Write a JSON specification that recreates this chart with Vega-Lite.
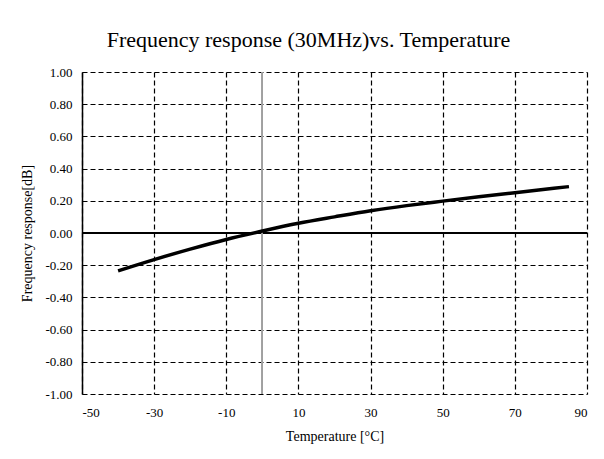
{
  "$schema": "https://vega.github.io/schema/vega-lite/v6.json",
  "width": 505,
  "height": 322,
  "autosize": {"type": "none"},
  "padding": {"left": 82, "top": 72, "right": 17, "bottom": 65},
  "background": "white",
  "title": {
    "text": "Frequency response (30MHz)vs. Temperature",
    "font": "Liberation Serif",
    "fontSize": 22,
    "fontWeight": "normal",
    "color": "#000000",
    "anchor": "middle",
    "offset": 14,
    "dx": -26
  },
  "config": {
    "view": {"stroke": null},
    "axis": {
      "labelFont": "Liberation Serif",
      "titleFont": "Liberation Serif",
      "labelColor": "#000000",
      "titleColor": "#000000",
      "labelFontSize": 13,
      "titleFontSize": 14,
      "titleFontWeight": "normal",
      "ticks": false,
      "grid": true,
      "labelOverlap": false,
      "gridColor": "#000000",
      "gridDash": [5, 3],
      "gridWidth": 1.2,
      "gridOpacity": 1
    }
  },
  "data": {
    "values": [
      {"t": -40, "r": -0.235},
      {"t": -30, "r": -0.165},
      {"t": -20, "r": -0.1},
      {"t": -10, "r": -0.04},
      {"t": 0, "r": 0.012},
      {"t": 10, "r": 0.06},
      {"t": 20, "r": 0.1},
      {"t": 30, "r": 0.138},
      {"t": 40, "r": 0.17},
      {"t": 50, "r": 0.198},
      {"t": 60, "r": 0.225},
      {"t": 70, "r": 0.25},
      {"t": 85, "r": 0.288}
    ]
  },
  "encoding": {
    "x": {
      "field": "t",
      "type": "quantitative",
      "scale": {"domain": [-50, 90], "nice": false, "zero": false},
      "axis": {
        "title": "Temperature [°C]",
        "grid": true,
        "values": [-50, -30, -10, 10, 30, 50, 70, 90],
        "labelExpr": "replace(format(datum.value, 'd'), '−', '-')",
        "labelPadding": 12,
        "titlePadding": 10,
        "domain": false
      }
    },
    "y": {
      "field": "r",
      "type": "quantitative",
      "scale": {"domain": [-1, 1], "nice": false},
      "axis": {
        "title": "Frequency response[dB]",
        "grid": true,
        "values": [-1, -0.8, -0.6, -0.4, -0.2, 0, 0.2, 0.4, 0.6, 0.8, 1],
        "labelExpr": "replace(format(datum.value, '.2f'), '−', '-')",
        "labelPadding": 10,
        "titlePadding": 10,
        "domain": true,
        "domainColor": "#000000",
        "domainWidth": 1.5
      }
    }
  },
  "layer": [
    {
      "mark": {"type": "rule", "color": "#000000", "strokeWidth": 1},
      "encoding": {"y": {"datum": 0, "type": "quantitative"}, "x": null}
    },
    {
      "mark": {"type": "rule", "color": "#a0a0a0", "strokeWidth": 1.2},
      "encoding": {"x": {"datum": 0, "type": "quantitative"}, "y": null}
    },
    {
      "mark": {"type": "line", "color": "#000000", "strokeWidth": 3.5, "interpolate": "monotone"},
      "encoding": {}
    }
  ]
}
